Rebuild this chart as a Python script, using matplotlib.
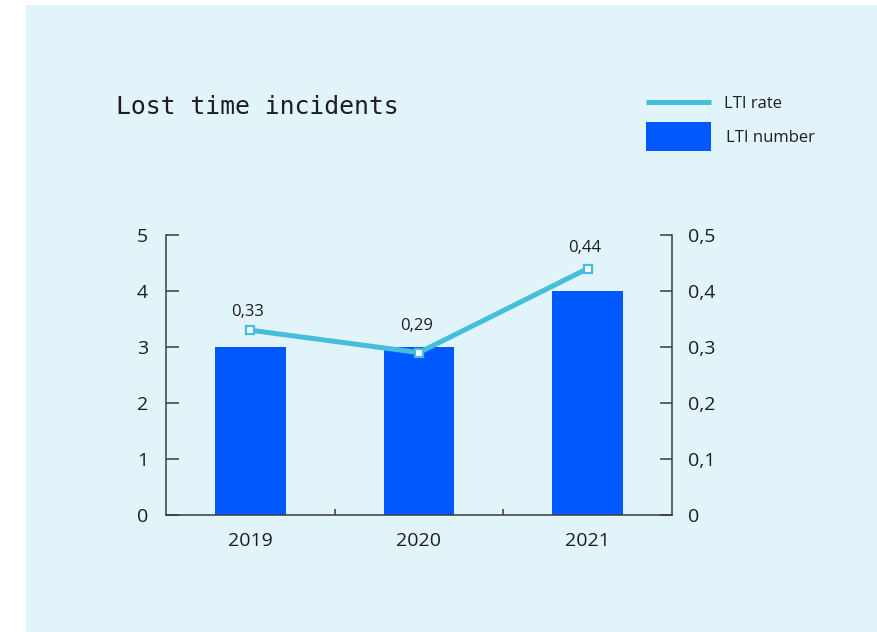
import matplotlib
matplotlib.use("Agg")
import matplotlib.pyplot as plt
from matplotlib.patches import Rectangle
from matplotlib.lines import Line2D
from matplotlib.ticker import FixedLocator

years = ["2019", "2020", "2021"]
lti_number = [3, 3, 4]
lti_rate = [0.33, 0.29, 0.44]
left_ticks = [0, 1, 2, 3, 4, 5]
right_ticks = [0, 0.1, 0.2, 0.3, 0.4, 0.5]
right_tick_labels = ["0", "0,1", "0,2", "0,3", "0,4", "0,5"]

BG = "#E1F4FA"
BAR = "#0058FF"
LINE = "#45BEDB"
INK = "#1E1E1E"
SPINE = "#3A3A3A"
SANS = ["Open Sans", "DejaVu Sans"]

W, H = 877, 632
fig = plt.figure(figsize=(W / 100, H / 100), dpi=100)
fig.patch.set_facecolor("white")

# light panel behind the whole chart
fig.add_artist(Rectangle((26 / W, 0), 1 - 26 / W, (H - 5) / H,
                         transform=fig.transFigure, facecolor=BG,
                         edgecolor="none", zorder=-10))

ax = fig.add_axes([166 / W, (H - 515) / H, (672 - 166) / W, (515 - 235) / H])
ax.set_facecolor("none")
ax2 = ax.twinx()
ax2.set_facecolor("none")

x = list(range(len(years)))
ax.bar(x, lti_number, width=0.42, color=BAR, zorder=2)
ax.set_xlim(-0.5, len(years) - 0.5)
ax.set_ylim(0, 5)
ax.set_yticks(left_ticks)
ax.set_yticklabels([str(t) for t in left_ticks])
ax.set_xticks(x)
ax.set_xticklabels(years)
ax.xaxis.set_minor_locator(FixedLocator([0.5, 1.5]))

ax2.plot(x, lti_rate, color=LINE, lw=3.6, marker="s", markersize=5.5,
         markerfacecolor="white", markeredgecolor=LINE, markeredgewidth=1.6,
         zorder=3, solid_capstyle="butt")
ax2.set_ylim(0, 0.5)
ax2.set_yticks(right_ticks)
ax2.set_yticklabels(right_tick_labels)

# value labels, the middle one lifted clear of the bar top
label_lift = [13, 19.5, 14.5]
for xi, v, dy in zip(x, lti_rate, label_lift):
    ax2.annotate(f"{v:.2f}".replace(".", ","), (xi, v), xytext=(-2, dy),
                 textcoords="offset points", ha="center", va="center",
                 fontsize=12, color=INK, family=SANS)

for a in (ax, ax2):
    for s in a.spines.values():
        s.set_color(SPINE)
        s.set_linewidth(1.1)
    a.spines["top"].set_visible(False)

ax.spines["right"].set_visible(False)
ax2.spines["left"].set_visible(False)
ax2.spines["bottom"].set_visible(False)

ax.tick_params(axis="y", direction="in", length=9, width=1.1, color=SPINE,
               pad=13, labelsize=14, labelcolor=INK)
ax.tick_params(axis="x", which="major", length=0, pad=12, labelsize=14,
               labelcolor=INK)
ax.tick_params(axis="x", which="minor", direction="in", length=4, width=1.1,
               color=SPINE)
ax2.tick_params(axis="y", direction="in", length=9, width=1.1, color=SPINE,
                pad=11.5, labelsize=14, labelcolor=INK)
for lab in ax.get_xticklabels() + ax.get_yticklabels() + ax2.get_yticklabels():
    lab.set_family(SANS)

# title
fig.text(116 / W, 1 - 107 / H, "Lost time incidents", ha="left", va="center",
         fontsize=17.8, family="DejaVu Sans Mono", color=INK)

# legend
fig.add_artist(Line2D([646 / W, 711 / W], [1 - 102 / H, 1 - 102 / H],
                      transform=fig.transFigure, color=LINE, lw=3.6,
                      solid_capstyle="butt"))
fig.add_artist(Rectangle((646 / W, 1 - 151 / H), 65 / W, 29 / H,
                         transform=fig.transFigure, facecolor=BAR,
                         edgecolor="none"))
fig.text(724 / W, 1 - 104 / H, "LTI rate", ha="left", va="center",
         fontsize=12, family=SANS, color=INK)
fig.text(726 / W, 1 - 138 / H, "LTI number", ha="left", va="center",
         fontsize=12, family=SANS, color=INK)

fig.savefig("out.png", dpi=100, facecolor="white")
